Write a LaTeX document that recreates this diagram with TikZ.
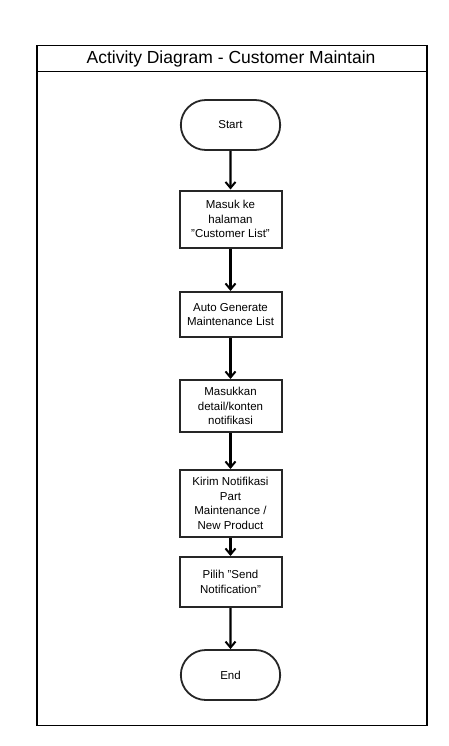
\documentclass[tikz,border=0pt]{standalone}
\usepackage{fontspec}
\setmainfont{Liberation Sans}[Ligatures=NoCommon]
\usetikzlibrary{arrows.meta,shapes.misc}
\newcommand{\dq}{\symbol{34}}
\begin{document}
\begin{tikzpicture}[x=1pt,y=-1pt,
  frame/.style={draw=black,line width=1.6pt},
  actbox/.style={draw=black!85,line width=2pt,minimum width=102pt,align=center,
    font=\fontsize{11.5}{14.5}\selectfont,inner sep=0pt},
  terminal/.style={draw=black!85,line width=1.8pt,rounded rectangle,minimum width=106pt,
    minimum height=50pt,font=\fontsize{11.5}{14.5}\selectfont},
  flow/.style={draw=black,line width=2.3pt,-{Straight Barb[length=6pt,width=10pt,line width=2pt]}}]
\useasboundingbox (0,0) rectangle (449,746);
% swimlane frame with title bar
\draw[frame] (37,45.5) rectangle (427,725.5);
\draw[frame] (37,71.5) -- (427,71.5);
\node[font=\fontsize{17.5}{20}\selectfont] (title) at (231,58.5) {Activity Diagram - Customer Maintain};
% activity nodes
\node[terminal] (start) at (230.5,125) {Start};
\node[actbox,minimum height=57pt] (a1) at (230.5,219) {Masuk ke\\halaman\\\dq Customer List\dq};
\node[actbox,minimum height=45pt] (a2) at (230.5,314.5) {Auto Generate\\Maintenance List};
\node[actbox,minimum height=52pt] (a3) at (230.5,406) {Masukkan\\detail/konten\\notifikasi};
\node[actbox,minimum height=67pt] (a4) at (230.5,503.5) {Kirim Notifikasi\\Part\\Maintenance /\\New Product};
\node[actbox,minimum height=50pt] (a5) at (230.5,582) {Pilih \dq Send\\Notification\dq};
\node[terminal] (end) at (230.5,675) {End};
% control flow
\draw[flow] (start) -- (a1);
\draw[flow] (a1) -- (a2);
\draw[flow] (a2) -- (a3);
\draw[flow] (a3) -- (a4);
\draw[flow] (a4) -- (a5);
\draw[flow] (a5) -- (end);
\end{tikzpicture}
\end{document}
